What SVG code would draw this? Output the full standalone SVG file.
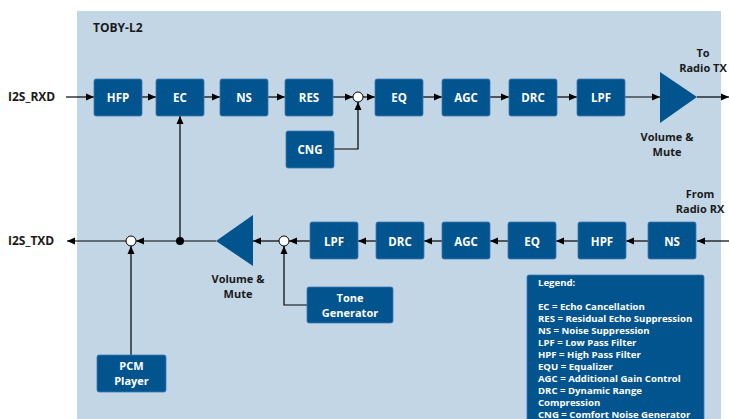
<svg xmlns="http://www.w3.org/2000/svg" width="729" height="419" viewBox="0 0 729 419">
<defs>
<marker id="ah" viewBox="0 0 8 8" refX="8" refY="4" markerWidth="8" markerHeight="8" markerUnits="userSpaceOnUse" orient="auto">
<path d="M0,0.5 L8,4 L0,7.5 Z" fill="#000"/>
</marker>
<style>
.box{fill:#02548f;stroke:#3f7ab0;stroke-width:0.8}
.bl{font-family:"Open Sans","Noto Sans","Liberation Sans",sans-serif;font-weight:bold;font-size:11.5px;fill:#fff;text-anchor:middle}
.b2{font-family:"Open Sans","Noto Sans","Liberation Sans",sans-serif;font-weight:bold;font-size:11px;fill:#fff;text-anchor:middle}
.lb{font-family:"Open Sans","Noto Sans","Liberation Sans",sans-serif;font-weight:bold;font-size:12px;fill:#1a1a1a}
.l2{font-family:"Open Sans","Noto Sans","Liberation Sans",sans-serif;font-weight:bold;font-size:11px;fill:#1a1a1a;text-anchor:middle}
.lg{font-family:"Open Sans","Noto Sans","Liberation Sans",sans-serif;font-weight:bold;font-size:9.6px;fill:#fff}
.ln{fill:none;stroke:#000;stroke-width:1.2}
.ar{marker-end:url(#ah)}
.sum{fill:#fff;stroke:#000;stroke-width:1}
.tri{fill:#02548f}
</style>
</defs>
<rect x="77" y="11" width="644" height="410" fill="#c2d6e6"/>
<text class="lb" x="93" y="32">TOBY-L2</text>
<text class="lb" x="8" y="101">I2S_RXD</text>
<text class="lb" x="8" y="245">I2S_TXD</text>
<text class="l2" x="703" y="57">To</text>
<text class="l2" x="703" y="72">Radio TX</text>
<text class="l2" x="700" y="197.5">From</text>
<text class="l2" x="700" y="212.5">Radio RX</text>

<g id="connectors">
<line class="ln ar" x1="66" y1="97" x2="94" y2="97"/>
<line class="ln ar" x1="142" y1="97" x2="156" y2="97"/>
<line class="ln ar" x1="204" y1="97" x2="220" y2="97"/>
<line class="ln ar" x1="268" y1="97" x2="285" y2="97"/>
<line class="ln ar" x1="333" y1="97" x2="353" y2="97"/>
<line class="ln ar" x1="363" y1="97" x2="375" y2="97"/>
<line class="ln ar" x1="423" y1="97" x2="442" y2="97"/>
<line class="ln ar" x1="490" y1="97" x2="509" y2="97"/>
<line class="ln ar" x1="557" y1="97" x2="577" y2="97"/>
<line class="ln ar" x1="625" y1="97" x2="660" y2="97"/>
<line class="ln ar" x1="697" y1="97" x2="729" y2="97"/>
<polyline class="ln ar" points="334,149 358,149 358,102"/>
<line class="ln ar" x1="180" y1="241" x2="180" y2="116"/>
<line class="ln ar" x1="729" y1="241" x2="697" y2="241"/>
<line class="ln ar" x1="648" y1="241" x2="626" y2="241"/>
<line class="ln ar" x1="578" y1="241" x2="556" y2="241"/>
<line class="ln ar" x1="508" y1="241" x2="490" y2="241"/>
<line class="ln ar" x1="442" y1="241" x2="424" y2="241"/>
<line class="ln ar" x1="376" y1="241" x2="358" y2="241"/>
<line class="ln ar" x1="310" y1="241" x2="289" y2="241"/>
<line class="ln ar" x1="279" y1="241" x2="253" y2="241"/>
<line class="ln ar" x1="216" y1="241" x2="136" y2="241"/>
<line class="ln ar" x1="126" y1="241" x2="67" y2="241"/>
<polyline class="ln ar" points="307,305 284,305 284,246"/>
<line class="ln ar" x1="131" y1="355" x2="131" y2="246"/>
<circle cx="180" cy="241" r="4" fill="#000"/>
</g>

<g id="sum1"><circle class="sum" cx="358" cy="97" r="5"/></g>
<g id="sum2"><circle class="sum" cx="284" cy="241" r="5"/></g>
<g id="sum3"><circle class="sum" cx="131" cy="241" r="5"/></g>

<g id="hfp"><rect class="box" x="94" y="79" width="48" height="37" rx="2"/><text class="bl" x="118" y="101.5">HFP</text></g>
<g id="ec"><rect class="box" x="156" y="79" width="48" height="37" rx="2"/><text class="bl" x="180" y="101.5">EC</text></g>
<g id="ns1"><rect class="box" x="220" y="79" width="48" height="37" rx="2"/><text class="bl" x="244" y="101.5">NS</text></g>
<g id="res"><rect class="box" x="285" y="79" width="48" height="37" rx="2"/><text class="bl" x="309" y="101.5">RES</text></g>
<g id="cng"><rect class="box" x="286" y="131" width="48" height="37" rx="2"/><text class="bl" x="310" y="153.5">CNG</text></g>
<g id="eq1"><rect class="box" x="375" y="79" width="48" height="37" rx="2"/><text class="bl" x="399" y="101.5">EQ</text></g>
<g id="agc1"><rect class="box" x="442" y="79" width="48" height="37" rx="2"/><text class="bl" x="466" y="101.5">AGC</text></g>
<g id="drc1"><rect class="box" x="509" y="79" width="48" height="37" rx="2"/><text class="bl" x="533" y="101.5">DRC</text></g>
<g id="lpf1"><rect class="box" x="577" y="79" width="48" height="37" rx="2"/><text class="bl" x="601" y="101.5">LPF</text></g>
<g id="vol1"><polygon class="tri" points="660,72 697,97 660,123"/>
<text class="l2" x="667" y="140.5">Volume &amp;</text>
<text class="l2" x="667" y="155.5">Mute</text></g>

<g id="ns2"><rect class="box" x="648" y="222" width="48" height="37" rx="2"/><text class="bl" x="672" y="245.5">NS</text></g>
<g id="hpf"><rect class="box" x="578" y="222" width="48" height="37" rx="2"/><text class="bl" x="602" y="245.5">HPF</text></g>
<g id="eq2"><rect class="box" x="508" y="222" width="48" height="37" rx="2"/><text class="bl" x="532" y="245.5">EQ</text></g>
<g id="agc2"><rect class="box" x="442" y="222" width="48" height="37" rx="2"/><text class="bl" x="466" y="245.5">AGC</text></g>
<g id="drc2"><rect class="box" x="376" y="222" width="48" height="37" rx="2"/><text class="bl" x="400" y="245.5">DRC</text></g>
<g id="lpf2"><rect class="box" x="310" y="222" width="48" height="37" rx="2"/><text class="bl" x="334" y="245.5">LPF</text></g>
<g id="vol2"><polygon class="tri" points="253,215 216,241 253,266"/>
<text class="l2" x="238" y="283">Volume &amp;</text>
<text class="l2" x="238" y="298">Mute</text></g>
<g id="tone"><rect class="box" x="307" y="287" width="86" height="36" rx="2"/><text class="b2" x="350" y="301.5">Tone</text><text class="b2" x="350" y="316.5">Generator</text></g>
<g id="pcm"><rect class="box" x="97" y="355" width="69" height="37" rx="2"/><text class="b2" x="131.5" y="369.5">PCM</text><text class="b2" x="131.5" y="384.5">Player</text></g>

<g id="legend"><rect class="box" x="527" y="275" width="177" height="160" rx="2"/>
<text class="lg" x="538" y="286">Legend:</text>
<text class="lg" x="538" y="310">EC = Echo Cancellation</text>
<text class="lg" x="538" y="322">RES = Residual Echo Suppression</text>
<text class="lg" x="538" y="334">NS = Noise Suppression</text>
<text class="lg" x="538" y="345.5">LPF = Low Pass Filter</text>
<text class="lg" x="538" y="357.5">HPF = High Pass Filter</text>
<text class="lg" x="538" y="369.5">EQU = Equalizer</text>
<text class="lg" x="538" y="381.5">AGC = Additional Gain Control</text>
<text class="lg" x="538" y="393.5">DRC = Dynamic Range</text>
<text class="lg" x="538" y="405.5">Compression</text>
<text class="lg" x="538" y="417.5">CNG = Comfort Noise Generator</text>
</g>
</svg>
